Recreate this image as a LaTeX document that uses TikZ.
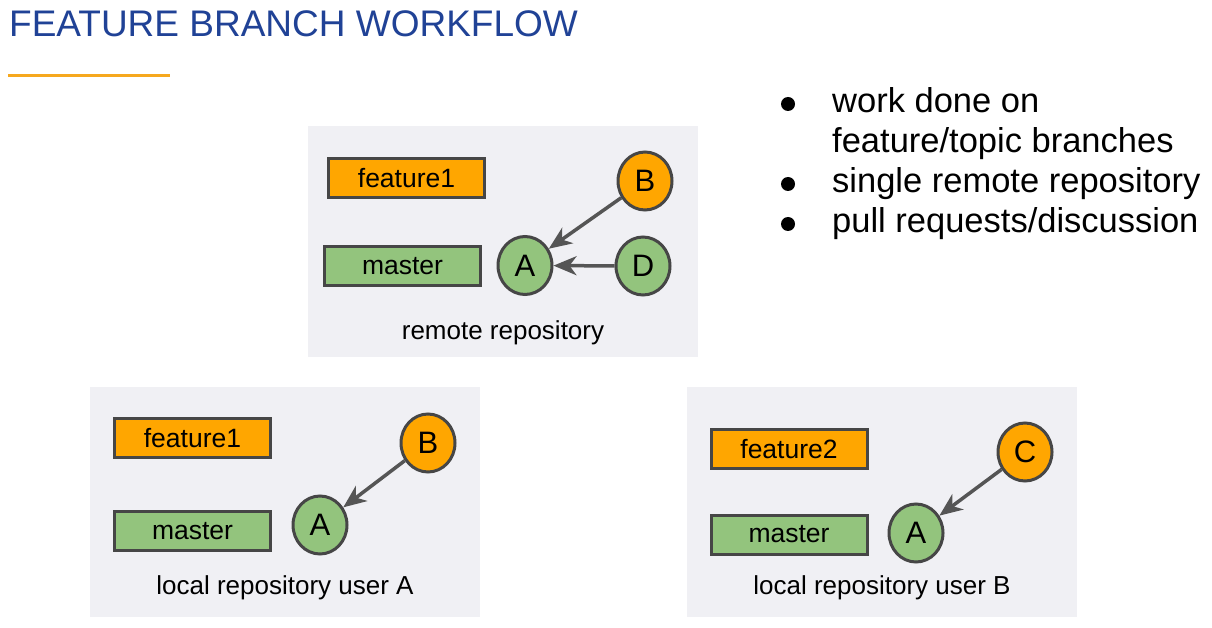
\documentclass[tikz,border=0pt]{standalone}
\usepackage{fontspec}
\setmainfont{Liberation Sans}
\usetikzlibrary{shapes.geometric,arrows.meta}
\definecolor{titleblue}{RGB}{32,66,150}
\definecolor{lineorange}{RGB}{246,168,30}
\definecolor{boxgray}{RGB}{240,240,244}
\definecolor{fillorange}{RGB}{255,166,0}
\definecolor{fillgreen}{RGB}{147,196,125}
\definecolor{edgegray}{RGB}{70,70,70}
\definecolor{arrgray}{RGB}{85,85,85}
\tikzset{
  repobox/.style={fill=boxgray, draw=none},
  branch/.style={rectangle, draw=edgegray, line width=3pt, minimum width=156pt, minimum height=39pt, inner sep=0pt, font=\fontsize{26.5}{30}\selectfont},
  featbranch/.style={branch, fill=fillorange},
  masterbranch/.style={branch, fill=fillgreen},
  commit/.style={ellipse, draw=edgegray, line width=3pt, minimum width=54pt, minimum height=58pt, inner sep=0pt, font=\fontsize{31}{34}\selectfont},
  fcommit/.style={commit, fill=fillorange},
  mcommit/.style={commit, fill=fillgreen},
  parent/.style={draw=arrgray, line width=3.5pt, -{Stealth[length=23pt,width=19pt,inset=7pt]}},
  caption/.style={anchor=base, inner sep=0pt, font=\fontsize{26}{30}\selectfont},
  bullettext/.style={anchor=base west, inner sep=0pt, font=\fontsize{34.5}{40}\selectfont}
}
\begin{document}
\begin{tikzpicture}[x=1pt,y=-1pt]
\fill[white] (0,0) rectangle (1212,628);
\useasboundingbox (0,0) rectangle (1212,628);
% title
\node[anchor=base west, inner sep=0pt, text=titleblue, font=\fontsize{37}{40}\selectfont] (title) at (9,37) {FEATURE BRANCH WORKFLOW};
\draw[lineorange, line width=3pt] (8,76) -- (170,76);
% bullets
\fill (788,104) circle (7pt);
\fill (788,184) circle (7pt);
\fill (788,224) circle (7pt);
\node[bullettext] (b1) at (832,113) {work done on};
\node[bullettext] (b2) at (832,153) {feature/topic branches};
\node[bullettext] (b3) at (832,193) {single remote repository};
\node[bullettext] (b4) at (832,233) {pull requests/discussion};
% remote repository
\fill[repobox] (308,126) rectangle (698,357);
\node[featbranch] (rf) at (406.5,178.5) {feature1};
\node[masterbranch] (rm) at (402.5,266) {master};
\node[mcommit] (rA) at (525,265.5) {A};
\node[fcommit] (rB) at (645,181) {B};
\node[mcommit] (rD) at (643,266) {D};
\draw[parent] (rB) -- (rA);
\draw[parent] (rD) -- (rA);
\node[caption] (rcap) at (503,339) {remote repository};
% local repository user A
\fill[repobox] (90,387) rectangle (480,617);
\node[featbranch] (af) at (192.5,438) {feature1};
\node[masterbranch] (am) at (192.5,531) {master};
\node[mcommit] (aA) at (320,525) {A};
\node[fcommit] (aB) at (428,443) {B};
\draw[parent] (aB) -- (aA);
\node[caption] (acap) at (285,594) {local repository user A};
% local repository user B
\fill[repobox] (687,387) rectangle (1077,617);
\node[featbranch] (bf) at (789,449) {feature2};
\node[masterbranch] (bm) at (789,534.5) {master};
\node[mcommit] (bA) at (916,533) {A};
\node[fcommit] (bC) at (1025,452) {C};
\draw[parent] (bC) -- (bA);
\node[caption] (bcap) at (882,594) {local repository user B};
\end{tikzpicture}
\end{document}
